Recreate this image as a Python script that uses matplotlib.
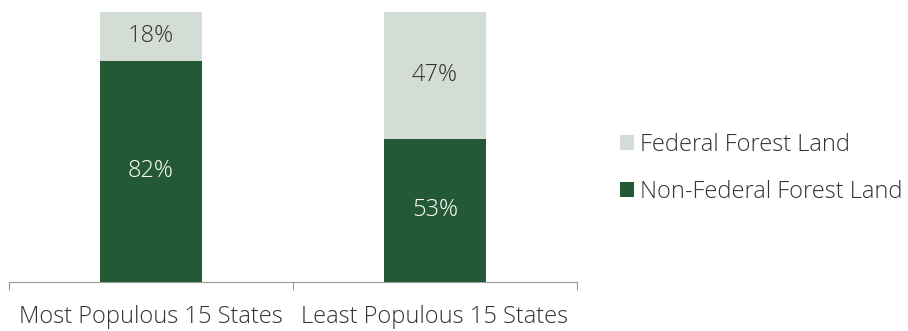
import matplotlib
matplotlib.use("Agg")
import matplotlib.pyplot as plt
import numpy as np

categories = ["Most Populous 15 States", "Least Populous 15 States"]
non_federal = [82, 53]
federal = [18, 47]

dark = "#235935"
light = "#d3ddd6"
txt = "#333333"

plt.rcParams["font.family"] = ["Open Sans", "DejaVu Sans"]

fig = plt.figure(figsize=(9.08, 3.31), dpi=100)
ax = fig.add_axes([9 / 908, 49 / 331, 568 / 908, 270 / 331])

x = np.arange(len(categories))
w = 0.36
b1 = ax.bar(x, non_federal, w, color=dark, label="Non-Federal Forest Land")
b2 = ax.bar(x, federal, w, bottom=non_federal, color=light, label="Federal Forest Land")

for i in range(len(categories)):
    ax.text(x[i], non_federal[i] / 2, f"{non_federal[i]}%", ha="center", va="center",
            color="white", fontsize=17, fontweight="light")
    ax.text(x[i], non_federal[i] + federal[i] / 2, f"{federal[i]}%", ha="center", va="center",
            color=txt, fontsize=17, fontweight="light")

ax.set_xlim(-0.5, 1.5)
ax.set_ylim(0, 100)
ax.set_yticks([])
for s in ["top", "right", "left"]:
    ax.spines[s].set_visible(False)
ax.spines["bottom"].set_color("#999999")
ax.set_xticks([-0.5, 0.5, 1.5])
ax.set_xticklabels([])
ax.tick_params(axis="x", length=6, color="#999999")
for i, c in enumerate(categories):
    ax.text(x[i], -8.5, c, ha="center", va="top", color=txt, fontsize=17, fontweight="light")

leg = fig.legend(handles=[b2, b1], loc="center left", bbox_to_anchor=(599 / 908, 162.5 / 331),
                 frameon=False, fontsize=17, handlelength=0.6, handleheight=0.6,
                 handletextpad=0.25, labelspacing=1.0)
for t in leg.get_texts():
    t.set_color(txt)
    t.set_fontweight("light")

fig.savefig("out.png", dpi=100)
